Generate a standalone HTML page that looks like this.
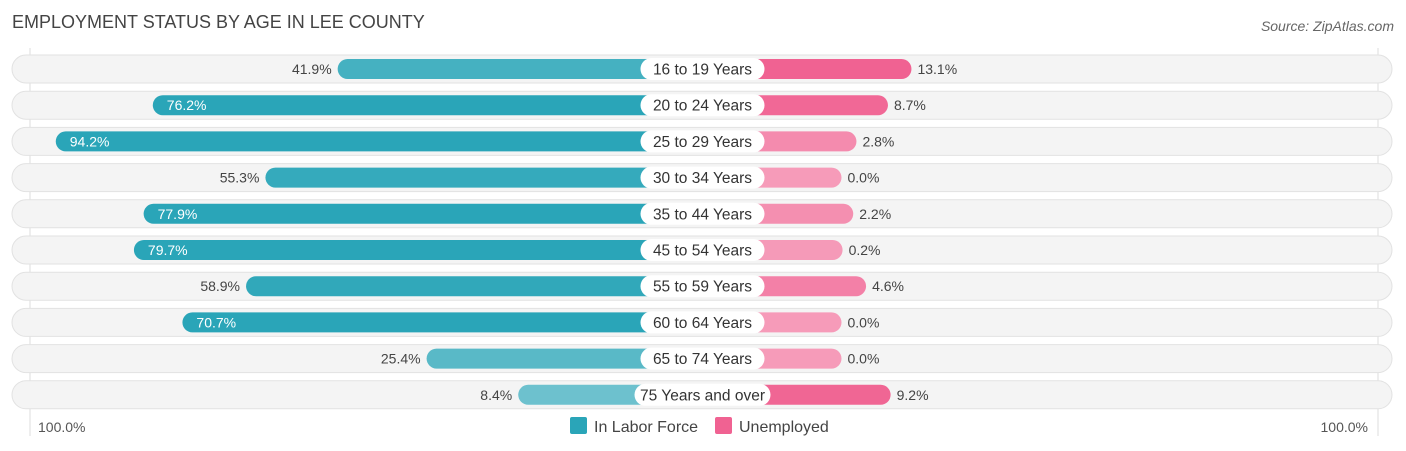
<!DOCTYPE html>
<html><head><meta charset="utf-8"><style>
body{margin:0;background:#fff;font-family:"Liberation Sans",sans-serif;}
#c{position:relative;width:1406px;height:451px;overflow:hidden}
</style></head><body>
<div id="c">
<svg id="s" width="1406" height="451">
<text x="12" y="28" font-size="18" fill="#444">EMPLOYMENT STATUS BY AGE IN LEE COUNTY</text>
<text x="1394" y="31" font-size="14" fill="#666" font-style="italic" text-anchor="end">Source: ZipAtlas.com</text>
<line x1="30" y1="48" x2="30" y2="436" stroke="#ddd"/>
<line x1="1378" y1="48" x2="1378" y2="436" stroke="#ddd"/>
<g id="rows"></g>
<text x="38" y="432" font-size="14" fill="#555">100.0%</text>
<text x="1368" y="432" font-size="14" fill="#555" text-anchor="end">100.0%</text>
<rect x="570" y="417" width="17" height="17" rx="2" fill="#2aa5b8"/>
<text x="594" y="432" font-size="16" fill="#444">In Labor Force</text>
<rect x="715" y="417" width="17" height="17" rx="2" fill="#f06292"/>
<text x="739" y="432" font-size="16" fill="#444">Unemployed</text>
</svg></div>
<script>
const categories=["16 to 19 Years","20 to 24 Years","25 to 29 Years","30 to 34 Years","35 to 44 Years","45 to 54 Years","55 to 59 Years","60 to 64 Years","65 to 74 Years","75 Years and over"];
const laborForce=[41.9,76.2,94.2,55.3,77.9,79.7,58.9,70.7,25.4,8.4];
const unemployed=[13.1,8.7,2.8,0.0,2.2,0.2,4.6,0.0,0.0,9.2];
const NS="http://www.w3.org/2000/svg";
const cx=702.5, minW=139, kL=5.39, kR=5.34;
const g=document.getElementById('rows');
function mk(t,a){const e=document.createElementNS(NS,t);for(const k in a)e.setAttribute(k,a[k]);g.appendChild(e);return e;}
function mix(a,b,t){return 'rgb('+a.map((v,i)=>Math.round(b[i]+(v-b[i])*t)).join(',')+')';}
categories.forEach((cat,i)=>{
  const y=69+i*36.2;
  const bg=mk('rect',{x:12,y:y-14,width:1380,height:28,rx:14,fill:'#f4f4f4',stroke:'#e2e2e2'});
  
  
  const lv=laborForce[i], uv=unemployed[i];
  const lx=cx-minW-lv*kL;
  const tl=Math.min(1,0.35+lv/100);
  const lb=mk('rect',{x:lx,y:y-10,width:cx-lx,height:20,rx:10,fill:mix([42,165,184],[160,215,222],tl)});
  
  
  const rx=cx+minW+uv*kR;
  const tu=Math.min(1,0.3+uv/14);
  const ub=mk('rect',{x:cx,y:y-10,width:rx-cx,height:20,rx:10,fill:mix([240,98,146],[248,180,202],tu)});
  
  
  const w=cat.length>14?136:124;
  const pill=mk('rect',{x:cx-w/2,y:y-11,width:w,height:22,rx:11,fill:'#fff'});
  
  
  const ct=mk('text',{x:cx,y:y+5.5,'font-size':15.5,fill:'#333','text-anchor':'middle'});
  ct.textContent=cat;
  
  
  const inside=lv>=65;
  const lt=mk('text',{x:inside?lx+14:lx-6,y:y+5,'font-size':14,fill:inside?'#fff':'#444','text-anchor':inside?'start':'end'});
  lt.textContent=lv.toFixed(1)+'%';
  
  
  const rt=mk('text',{x:rx+6,y:y+5,'font-size':14,fill:'#444'});
  rt.textContent=uv.toFixed(1)+'%';
  
  
});
</script>
</body></html>
